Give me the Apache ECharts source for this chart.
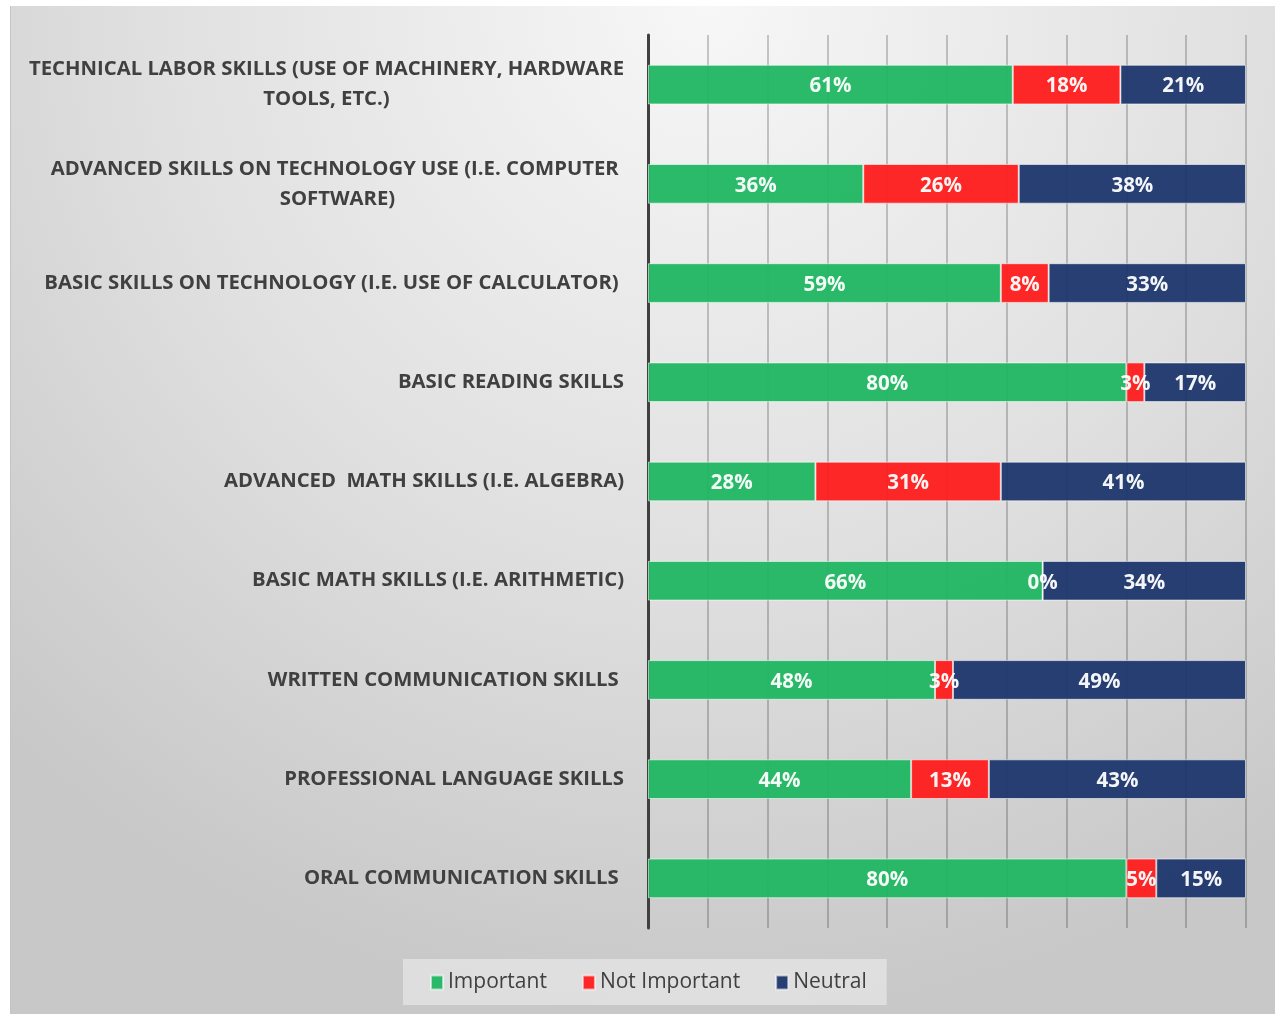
<!DOCTYPE html>
<html>
<head>
<meta charset="utf-8">
<script src="https://cdn.jsdelivr.net/npm/echarts@6/dist/echarts.min.js"></script>
<style>
body{margin:0;background:#fff;}
#main{position:absolute;left:10px;top:6px;width:1265px;height:1008px;border-left:1px solid #c4c4c4;box-sizing:border-box;}
</style>
</head>
<body>
<div id="main"></div>
<script>
// skills, top to bottom
var categories = [
	'TECHNICAL LABOR SKILLS (USE OF MACHINERY, HARDWARE\nTOOLS, ETC.)',
	'ADVANCED SKILLS ON TECHNOLOGY USE (I.E. COMPUTER \nSOFTWARE)',
	'BASIC SKILLS ON TECHNOLOGY (I.E. USE OF CALCULATOR) ',
	'BASIC READING SKILLS',
	'ADVANCED  MATH SKILLS (I.E. ALGEBRA)',
	'BASIC MATH SKILLS (I.E. ARITHMETIC)',
	'WRITTEN COMMUNICATION SKILLS ',
	'PROFESSIONAL LANGUAGE SKILLS',
	'ORAL COMMUNICATION SKILLS '
];
var important    = [61, 36, 59, 80, 28, 66, 48, 44, 80];
var notImportant = [18, 26,  8,  3, 31,  0,  3, 13,  5];
var neutral      = [21, 38, 33, 17, 41, 34, 49, 43, 15];
var xTicks = [0, 10, 20, 30, 40, 50, 60, 70, 80, 90, 100];

var labelFont = '"Open Sans", "Noto Sans", sans-serif';

function makeSeries(name, data, color){
	return {
		name: name,
		type: 'bar',
		stack: 'total',
		barWidth: '40%',
		data: data,
		itemStyle: {
			color: color,
			opacity: 0.95,
			borderColor: 'rgba(255,255,255,0.6)',
			borderWidth: 1
		},
		label: {
			show: true,
			position: 'inside',
			formatter: '{c}%',
			color: '#fff',
			fontFamily: labelFont,
			fontWeight: 'bold',
			fontSize: 20.5,
			offset: [0, 2]
		}
	};
}

var myChart = echarts.init(document.getElementById('main'));
var option = {
	backgroundColor: {
		type: 'radial', x: 0.55, y: 0, r: 1,
		colorStops: [
			{offset: 0, color: '#f7f7f7'},
			{offset: 0.55, color: '#e0e0e0'},
			{offset: 1, color: '#c8c8c8'}
		]
	},
	animation: false,
	grid: {left: 637, right: 29, top: 29, bottom: 86},
	legend: {
		top: 953,
		left: 392,
		backgroundColor: 'rgba(230,230,230,0.75)',
		padding: [13, 20, 12, 27],
		itemGap: 35,
		itemWidth: 12,
		itemHeight: 14,
		icon: 'rect',
		textStyle: {color: '#404040', fontSize: 21, fontFamily: labelFont},
		data: ['Important', 'Not Important', 'Neutral']
	},
	xAxis: {
		type: 'value',
		min: xTicks[0],
		max: xTicks[xTicks.length - 1],
		interval: 10,
		axisLabel: {show: false},
		axisLine: {show: false},
		axisTick: {show: false},
		splitLine: {show: true, lineStyle: {color: 'rgba(0,0,0,0.2)', width: 2}}
	},
	yAxis: {
		type: 'category',
		inverse: true,
		data: categories,
		axisLine: {show: true, lineStyle: {color: '#404040', width: 3}},
		axisTick: {show: false},
		axisLabel: {
			margin: 24,
			align: 'right',
			color: '#404040',
			fontFamily: labelFont,
			fontWeight: 'bold',
			fontSize: 20.3,
			lineHeight: 30,
			formatter: function(v){
				return v.split('\n').map(function(l){ return '{c|' + l + '}'; }).join('\n');
			},
			rich: {c: {align: 'center'}}
		}
	},
	series: [
		makeSeries('Important', important, '#1fb661'),
		makeSeries('Not Important', notImportant, '#ff1c1c'),
		makeSeries('Neutral', neutral, '#1c366c')
	]
};
myChart.setOption(option);
</script>
</body>
</html>
